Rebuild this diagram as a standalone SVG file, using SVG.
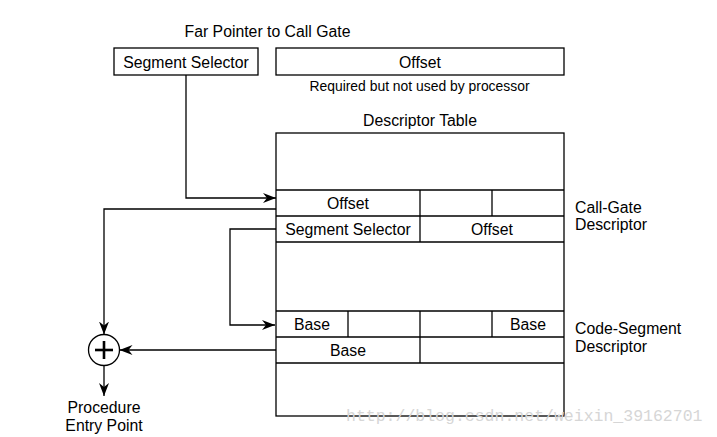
<svg xmlns="http://www.w3.org/2000/svg" width="717" height="437" viewBox="0 0 717 437">
<style>
text{font-family:"Liberation Sans",Arial,sans-serif;font-size:15.8px;fill:#000}
.c{text-anchor:middle}
.s{font-size:13.9px}
.box{fill:none;stroke:#000;stroke-width:1.3}
.ln{fill:none;stroke:#000;stroke-width:1.3}
.wm{font-family:"Liberation Mono",monospace;font-size:16.5px;fill:#d6d6d6}
</style>
<defs>
<marker id="ah" markerWidth="14" markerHeight="10" refX="13" refY="5" orient="auto" markerUnits="userSpaceOnUse">
<path d="M0,0 L13,5 L0,10 L4,5 Z" fill="#000"/>
</marker>
</defs>
<rect width="717" height="437" fill="#fff"/>
<text class="c" x="267.5" y="37">Far Pointer to Call Gate</text>
<g id="farSel">
<rect class="box" x="114" y="48" width="144" height="27"/>
<text class="c" x="186" y="67.5">Segment Selector</text>
</g>
<g id="farOff">
<rect class="box" x="276" y="48" width="288" height="27"/>
<text class="c" x="420" y="67.5">Offset</text>
<text class="c s" x="419.5" y="91">Required but not used by processor</text>
</g>
<text class="c" x="420" y="126">Descriptor Table</text>
<g id="table">
<rect class="box" x="276" y="133" width="288" height="283"/>
</g>
<g id="callGate">
<line class="ln" x1="276" y1="190" x2="564" y2="190"/>
<line class="ln" x1="276" y1="216" x2="564" y2="216"/>
<line class="ln" x1="276" y1="242" x2="564" y2="242"/>
<line class="ln" x1="420" y1="190" x2="420" y2="242"/>
<line class="ln" x1="492" y1="190" x2="492" y2="216"/>
<text class="c" x="348" y="209">Offset</text>
<text class="c" x="348" y="235">Segment Selector</text>
<text class="c" x="492" y="235">Offset</text>
<text x="575" y="213">Call-Gate</text>
<text x="575" y="230">Descriptor</text>
</g>
<g id="codeSeg">
<line class="ln" x1="276" y1="311" x2="564" y2="311"/>
<line class="ln" x1="276" y1="337" x2="564" y2="337"/>
<line class="ln" x1="276" y1="363" x2="564" y2="363"/>
<line class="ln" x1="420" y1="311" x2="420" y2="363"/>
<line class="ln" x1="348" y1="311" x2="348" y2="337"/>
<line class="ln" x1="492" y1="311" x2="492" y2="337"/>
<text class="c" x="312" y="330">Base</text>
<text class="c" x="528" y="330">Base</text>
<text class="c" x="348" y="356">Base</text>
<text x="575" y="334">Code-Segment</text>
<text x="575" y="352">Descriptor</text>
</g>
<g id="adder">
<circle cx="104" cy="350" r="15.5" fill="#fff" stroke="#000" stroke-width="1.3"/>
<line x1="95" y1="350" x2="113" y2="350" stroke="#000" stroke-width="2.6"/>
<line x1="104" y1="341" x2="104" y2="359" stroke="#000" stroke-width="2.6"/>
</g>
<g id="result">
<text class="c" x="104" y="413">Procedure</text>
<text class="c" x="104" y="431">Entry Point</text>
</g>
<g id="connectors">
<polyline class="ln" points="186,75 186,198 276,198" marker-end="url(#ah)"/>
<polyline class="ln" points="276,209 104,209 104,334.5" marker-end="url(#ah)"/>
<polyline class="ln" points="276,229 230,229 230,325 275,325" marker-end="url(#ah)"/>
<line class="ln" x1="276" y1="350" x2="119.5" y2="350" marker-end="url(#ah)"/>
<line class="ln" x1="104" y1="365.5" x2="104" y2="396" marker-end="url(#ah)"/>
</g>
<text class="wm" x="346" y="421">http://blog.csdn.net/weixin_39162701</text>
</svg>
